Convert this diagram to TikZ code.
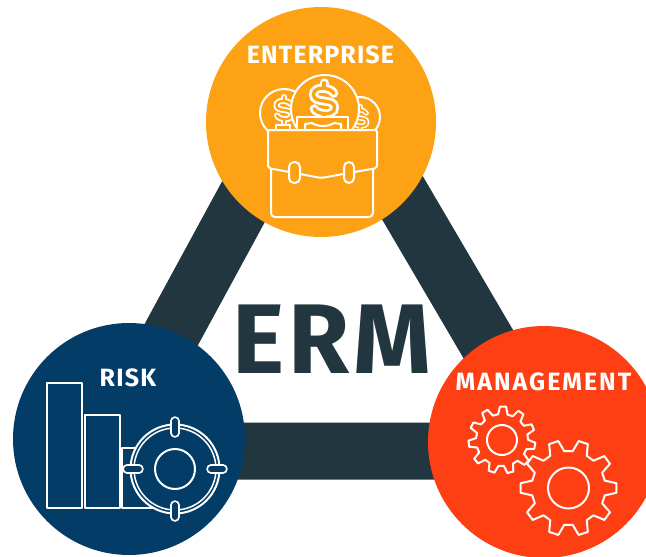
\documentclass[tikz,border=0pt]{standalone}
\usepackage{fontspec}
\setmainfont{Fira Sans}
\definecolor{entc}{HTML}{FDA214}
\definecolor{riskc}{HTML}{033C66}
\definecolor{mgmtc}{HTML}{FD3F13}
\definecolor{bandc}{HTML}{22363F}
\tikzset{
  hub/.style={circle,inner sep=0pt,minimum size=#1},
  band/.style={draw=bandc,line width=57pt,line join=round},
  icon/.style={draw=white,line width=2pt,line join=round,line cap=round},
  label/.style={text=white,inner sep=0pt,font=\bfseries\fontsize{25}{25}\selectfont},
}
% cx, cy, outer, root, teeth, phase, fill
\newcommand{\gearicon}[7]{%
  \draw[icon,fill=#7,shift={(#1,#2)}] (#6-0.32*360/#5:#4)
    \foreach \k in {1,...,#5}{
      -- ({#6+(\k-1)*360/#5-0.32*360/#5}:#4)
      -- ({#6+(\k-1)*360/#5-0.16*360/#5}:#3)
      -- ({#6+(\k-1)*360/#5+0.16*360/#5}:#3)
      -- ({#6+(\k-1)*360/#5+0.32*360/#5}:#4)
    } -- cycle;
}
% x, y, size, outer width, inner width
\newcommand{\dollaricon}[5]{%
  \begin{scope}[shift={(#1,#2)},scale=#3,line cap=round]
    \foreach \w/\c in {#4/white,#5/entc}{
      \draw[line width=\w pt,\c] (0,-1.3)--(0,-0.9);
      \draw[line width=\w pt,\c] (0,0.9)--(0,1.3);
      \draw[line width=\w pt,\c] (0.7,-0.55) .. controls (0.55,-0.95) and (-0.75,-1.15) .. (-0.75,-0.45)
        .. controls (-0.75,0.25) and (0.75,-0.25) .. (0.75,0.45)
        .. controls (0.75,1.15) and (-0.55,0.95) .. (-0.7,0.55);
    }
  \end{scope}
}
\begin{document}
\begin{tikzpicture}[x=1pt,y=-1pt]
\useasboundingbox (0,0) rectangle (646,557);
\fill[white] (0,0) rectangle (646,557);
% triangle
\coordinate (apexT) at (321,59);
\coordinate (apexL) at (108,451);
\coordinate (apexR) at (551,451);
\draw[band] (apexT) -- (apexL) -- (apexR) -- cycle;
% hubs
\node[hub=230pt,fill=entc] (ent) at (321,122) {};
\node[hub=232pt,fill=riskc] (risk) at (129,439) {};
\node[hub=232pt,fill=mgmtc] (mgmt) at (544,442) {};
% texts
\node[text=bandc,inner sep=0pt,font=\bfseries\fontsize{99}{99}\selectfont\addfontfeatures{LetterSpace=4}] (erm) at (332,339) {ERM};
\node[label] (entl) at (320.5,55) {\addfontfeatures{LetterSpace=4.5}ENTERPRISE};
\node[label] (riskl) at (128,378) {\addfontfeatures{LetterSpace=5}RISK};
\node[label] (mgmtl) at (543.5,382) {\addfontfeatures{LetterSpace=8}MANAGEMENT};
% enterprise icon
\draw[icon,fill=entc] (284,113) circle (24);
\draw[icon,fill=entc] (360,117) circle (20);
\dollaricon{284}{110}{10}{6}{2.4}
\dollaricon{360}{118}{9}{5}{2}
\draw[icon,fill=entc] (325,109) circle (34);
\dollaricon{324}{101}{14}{9}{3.4}
\draw[icon,fill=entc] (276,125) rectangle (290,131);
\draw[icon,fill=entc] (297,117) rectangle (348,131);
\draw[icon,fill=entc] (305,130) -- (305,124) -- (312,123) .. controls (318,127) and (328,127) .. (334,123) -- (341,124) -- (341,130);
\draw[icon,fill=entc] (271,165) -- (271,212) [rounded corners=4pt] -- (271,217) -- (373,217) -- (373,165);
\draw[icon,fill=entc,rounded corners=2pt] (268,130) -- (377,130) -- (377,168) -- (321,178) -- (268,168) -- cycle;
\draw[icon,fill=entc,rounded corners=5pt] (289,162) rectangle (300,183);
\draw[icon,fill=entc,rounded corners=5pt] (344,162) rectangle (354,183);
% risk icon
\draw[icon,line cap=butt,fill=riskc] (47,508) rectangle (82,383);
\draw[icon,line cap=butt,fill=riskc] (85,508) rectangle (120,415);
\draw[icon,line cap=butt,fill=riskc] (122,508) rectangle (153,448);
\draw[icon,fill=riskc] (175,469) circle (44.5);
\draw[white,line width=1.5pt] (175,469) circle (41);
\draw[icon] (175,469) circle (20);
\foreach \a in {0,90,180,270}{
  \draw[white,line width=9.5pt,line cap=round,rotate around={\a:(175,469)}] (175,433) -- (175,421);
  \draw[riskc,line width=5.8pt,line cap=round,rotate around={\a:(175,469)}] (175,433) -- (175,421);
}
% management icon
\gearicon{502}{440}{33.5}{26}{11}{10}{mgmtc}
\draw[icon] (502,440) circle (15);
\gearicon{568.5}{488}{48}{37}{10}{0}{mgmtc}
\draw[icon] (568.5,488) circle (20.5);
\end{tikzpicture}
\end{document}
